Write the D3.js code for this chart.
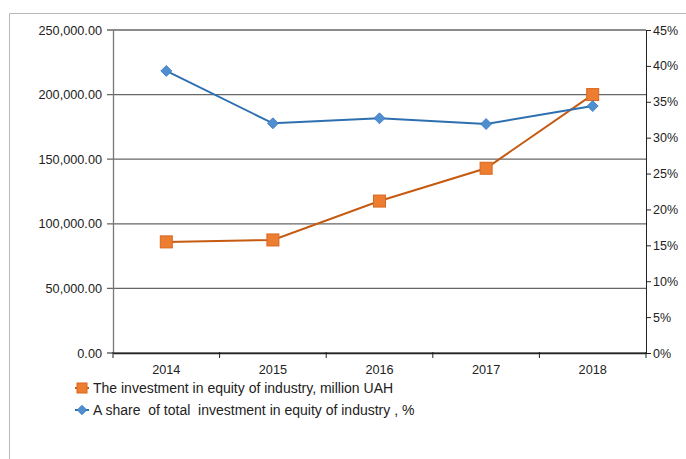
<!DOCTYPE html>
<html lang="en">
<head>
<meta charset="UTF-8">
<title>Investment in equity of industry</title>
<script src="https://d3js.org/d3.v7.min.js"></script>
<style>
  html, body { margin: 0; padding: 0; background: #fff; }
  svg text { font-family: "Liberation Sans", Arial, sans-serif; fill: #222; }
  .legend text { white-space: pre; }
</style>
</head>
<body>
<svg id="chart" width="686" height="459"></svg>
<script>
// Data
const years = ['2014', '2015', '2016', '2017', '2018'];
const investment = [86000, 87500, 117600, 143000, 200000];   // million UAH
const share = [39.3, 32.0, 32.7, 31.9, 34.4];                 // %
const leftTicks = [0, 50000, 100000, 150000, 200000, 250000];
const rightTicks = [0, 5, 10, 15, 20, 25, 30, 35, 40, 45];
const legendLabels = [
  'The investment in equity of industry, million UAH',
  'A share  of total  investment in equity of industry , %'
];

const svg = d3.select('#chart');
const plotLeft = 113, plotRight = 646, plotTop = 30, plotBottom = 353;

// outer frame
svg.append('path')
  .attr('d', 'M9.5,459 V13.5 H686')
  .attr('fill', 'none')
  .attr('stroke', '#b8b8b8')
  .attr('stroke-width', 1);

const x = d3.scaleBand().domain(years).range([plotLeft, plotRight]);
const yL = d3.scaleLinear().domain([0, 250000]).range([plotBottom, plotTop]);
const yR = d3.scaleLinear().domain([0, 45]).range([plotBottom, plotTop]);

// gridlines
svg.append('g')
  .selectAll('line')
  .data(leftTicks)
  .join('line')
  .attr('x1', plotLeft - 6).attr('x2', plotRight)
  .attr('y1', d => yL(d)).attr('y2', d => yL(d))
  .attr('stroke', '#666')
  .attr('stroke-width', 1.3);

// left axis
const axL = svg.append('g')
  .attr('transform', `translate(${plotLeft},0)`)
  .call(d3.axisLeft(yL).tickValues(leftTicks).tickSize(0).tickPadding(11)
    .tickFormat(d => d3.format(',.2f')(d)));
axL.select('.domain').attr('stroke', '#777').attr('stroke-width', 1.3);
axL.selectAll('text').attr('font-size', 12.7).attr('fill', '#222');

// right axis
const axR = svg.append('g')
  .attr('transform', `translate(${plotRight},0)`)
  .call(d3.axisRight(yR).tickValues(rightTicks).tickSize(5).tickPadding(2)
    .tickFormat(d => d + '%'));
axR.select('.domain').attr('stroke', '#222').attr('stroke-width', 1);
axR.selectAll('.tick line').attr('stroke', '#222');
axR.selectAll('text').attr('font-size', 12.5).attr('fill', '#222');

// bottom axis
const axB = svg.append('g')
  .attr('transform', `translate(0,${plotBottom})`)
  .call(d3.axisBottom(x).tickSize(0).tickPadding(12));
axB.select('.domain').attr('stroke', '#222').attr('stroke-width', 1.3);
axB.selectAll('text').attr('font-size', 12.7).attr('fill', '#222');
// boundary ticks between categories
const bounds = years.map(d => x(d)).concat([x(years[years.length - 1]) + x.bandwidth()]);
svg.append('g')
  .selectAll('line')
  .data(bounds)
  .join('line')
  .attr('x1', d => d).attr('x2', d => d)
  .attr('y1', plotBottom - 1).attr('y2', plotBottom + 5)
  .attr('stroke', '#222');

const cx = d => x(d) + x.bandwidth() / 2;

// investment line (orange)
svg.append('path')
  .datum(investment)
  .attr('fill', 'none')
  .attr('stroke', '#c55a11')
  .attr('stroke-width', 2)
  .attr('d', d3.line().x((d, i) => cx(years[i])).y(d => yL(d)));

svg.append('g')
  .selectAll('rect')
  .data(investment)
  .join('rect')
  .attr('x', (d, i) => cx(years[i]) - 6)
  .attr('y', d => yL(d) - 6)
  .attr('width', 12).attr('height', 12)
  .attr('fill', '#ed7d31')
  .attr('stroke', '#d9661f')
  .attr('stroke-width', 1);

// share line (blue)
svg.append('path')
  .datum(share)
  .attr('fill', 'none')
  .attr('stroke', '#2e6fb0')
  .attr('stroke-width', 2)
  .attr('d', d3.line().x((d, i) => cx(years[i])).y(d => yR(d)));

const diamond = d3.symbol().type(d3.symbolSquare).size(60);
svg.append('g')
  .selectAll('path')
  .data(share)
  .join('path')
  .attr('d', diamond)
  .attr('transform', (d, i) => `translate(${cx(years[i])},${yR(d)}) rotate(45)`)
  .attr('fill', '#4f8fd0')
  .attr('stroke', '#3a7bc0')
  .attr('stroke-width', 0.8);

// legend
const legend = svg.append('g').attr('class', 'legend');
const lg = legend.append('g').attr('transform', 'translate(82,388)');
lg.append('line').attr('x1', -7).attr('x2', 7).attr('y1', 0).attr('y2', 0)
  .attr('stroke', '#c55a11').attr('stroke-width', 2);
lg.append('rect').attr('x', -5).attr('y', -5).attr('width', 10).attr('height', 10)
  .attr('fill', '#ed7d31').attr('stroke', '#d9661f');
lg.append('text').attr('x', 11).attr('y', 0).attr('dy', '0.35em')
  .attr('font-size', 14).text(legendLabels[0]);

const lg2 = legend.append('g').attr('transform', 'translate(82,410)');
lg2.append('line').attr('x1', -7).attr('x2', 7).attr('y1', 0).attr('y2', 0)
  .attr('stroke', '#2e6fb0').attr('stroke-width', 2);
lg2.append('path').attr('d', d3.symbol().type(d3.symbolSquare).size(45))
  .attr('transform', 'rotate(45)')
  .attr('fill', '#4f8fd0').attr('stroke', '#3a7bc0').attr('stroke-width', 0.8);
lg2.append('text').attr('x', 11).attr('y', 0).attr('dy', '0.35em')
  .attr('font-size', 14).text(legendLabels[1]);
</script>
</body>
</html>
